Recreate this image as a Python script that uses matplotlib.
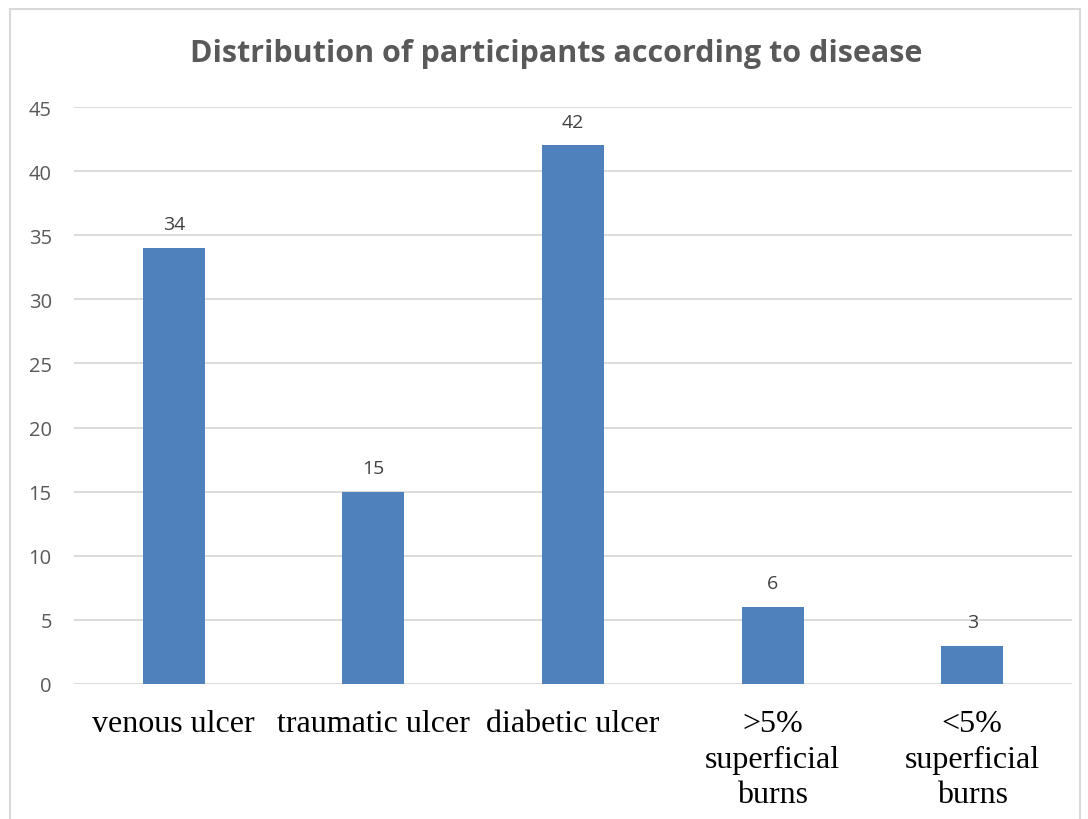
import matplotlib.pyplot as plt
from matplotlib.patches import Rectangle

categories = ['venous ulcer', 'traumatic ulcer', 'diabetic ulcer',
              '>5%\nsuperficial\nburns', '<5%\nsuperficial\nburns']
counts = [34, 15, 42, 6, 3]
yticks = [0, 5, 10, 15, 20, 25, 30, 35, 40, 45]

fig = plt.figure(figsize=(10.88, 8.2), dpi=100)
ax = fig.add_axes([74/1088, 1 - 685/820, 998/1088, 577/820])

# light chart border
fig.patches.append(Rectangle((10/1088, -0.05), 1070/1088, 1.05 - 10/820,
                             transform=fig.transFigure, fill=False,
                             edgecolor='#d9d9d9', linewidth=1.5))

x = range(len(categories))
bars = ax.bar(x, counts, width=0.31, color='#4f81bd', zorder=3)
for b, v in zip(bars, counts):
    ax.text(b.get_x() + b.get_width() / 2, v + 1.85, str(v), ha='center',
            va='center', fontsize=14, color='#404040', family='Open Sans')

ax.set_xlim(-0.5, len(categories) - 0.5)
ax.set_ylim(0, 45)
ax.set_yticks(yticks)
ax.yaxis.grid(True, color='#d9d9d9', linewidth=1.3, zorder=0)
for s in ax.spines.values():
    s.set_visible(False)
ax.tick_params(axis='both', length=0)
ax.tick_params(axis='y', pad=16, labelcolor='#595959', labelsize=14.5)
for lab in ax.get_yticklabels():
    lab.set_family('Open Sans')
ax.set_xticks(list(x))
ax.set_xticklabels(categories, family='Liberation Serif', fontsize=23,
                   color='black', linespacing=1.3)
ax.tick_params(axis='x', pad=18)

fig.text(556/1088, 1 - 54/820, 'Distribution of participants according to disease',
         ha='center', va='center', fontsize=22, fontweight='bold',
         color='#595959', family='Open Sans')

fig.savefig('out.png', dpi=100)
